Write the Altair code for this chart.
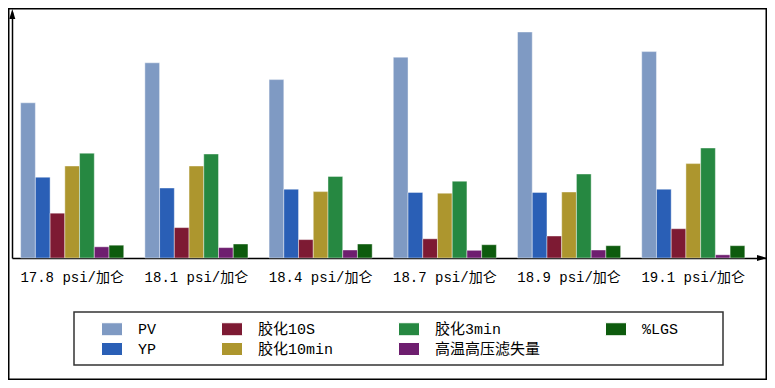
import altair as alt
import pandas as pd

categories = ["17.8 psi/加仑", "18.1 psi/加仑", "18.4 psi/加仑",
              "18.7 psi/加仑", "18.9 psi/加仑", "19.1 psi/加仑"]
series = ["PV", "YP", "胶化10S", "胶化10min", "胶化3min", "高温高压滤失量", "%LGS"]

pv = [19.4, 24.4, 22.3, 25.1, 28.25, 25.8]
yp = [10.1, 8.75, 8.6, 8.2, 8.2, 8.6]
gel10s = [5.6, 3.8, 2.3, 2.4, 2.75, 3.66]
gel10min = [11.5, 11.5, 8.3, 8.1, 8.25, 11.8]
gel3min = [13.1, 13.0, 10.2, 9.6, 10.5, 13.75]
fluid_loss = [1.4, 1.3, 1.0, 0.96, 1.0, 0.4]
lgs = [1.6, 1.75, 1.75, 1.66, 1.54, 1.54]

series_colors = ["#7f9ac3", "#2a5fb6", "#7d1a33", "#ad962e", "#268841", "#6e1e6f", "#0d5b0d"]

values = [pv, yp, gel10s, gel10min, gel3min, fluid_loss, lgs]
rows = []
for s, vals in zip(series, values):
    for c, v in zip(categories, vals):
        rows.append({"category": c, "series": s, "value": v})
df = pd.DataFrame(rows)

FONT = "'Liberation Mono', 'Noto Sans CJK SC'"

bars = alt.Chart(df).mark_bar(stroke="white", strokeWidth=0.7, strokeOpacity=0.6).encode(
    x=alt.X("category:N", sort=categories, title=None,
            scale=alt.Scale(paddingInner=0.17, paddingOuter=0.12, align=0.29),
            axis=alt.Axis(labelAngle=0, ticks=False, tickSize=0, domainColor="black",
                          domainWidth=1.5, labelFont=FONT, labelFontSize=14,
                          labelColor="black", labelPadding=12, labelLimit=300)),
    xOffset=alt.XOffset("series:N", sort=series,
                        scale=alt.Scale(paddingInner=0, paddingOuter=0)),
    y=alt.Y("value:Q", scale=alt.Scale(domain=[0, 30.75], nice=False, zero=True),
            axis=alt.Axis(labels=False, ticks=False, grid=False, domainColor="black",
                          domainWidth=1.5, title=None)),
    color=alt.Color("series:N",
                    scale=alt.Scale(domain=series, range=series_colors),
                    legend=alt.Legend(title=None, orient="none", legendX=89, legendY=306,
                                      columns=4, columnPadding=62, rowPadding=0,
                                      gridAlign="each",
                                      symbolType="M-1,-0.62H1V0.62H-1Z", symbolSize=441,
                                      symbolStrokeColor="white", symbolStrokeWidth=1,
                                      symbolOpacity=1,
                                      labelFont=FONT, labelFontSize=15, labelOffset=15,
                                      labelColor="black", padding=0, labelLimit=300)),
)

one = pd.DataFrame({"a": [0]})

border = alt.Chart(one).mark_rect(filled=False, stroke="black", strokeWidth=1.5).encode(
    x=alt.value(-3.25), x2=alt.value(754.25), y=alt.value(-3.25), y2=alt.value(367.25))

legend_box = alt.Chart(one).mark_rect(filled=False, stroke="#333333", strokeWidth=1.5).encode(
    x=alt.value(62), x2=alt.value(711), y=alt.value(300), y2=alt.value(353))

y_arrow = alt.Chart(one).mark_point(shape="M0,-1L0.6,1L-0.6,1Z", size=100, filled=True,
                                    color="black", opacity=1).encode(
    x=alt.value(0.3), y=alt.value(2))

x_arrow = alt.Chart(one).mark_point(shape="M1,0L-1,-0.6L-1,0.6Z", size=100, filled=True,
                                    color="black", opacity=1).encode(
    x=alt.value(750), y=alt.value(246))

chart = alt.layer(bars, border, legend_box, y_arrow, x_arrow).properties(
    width=754, height=246,
    autosize=alt.AutoSizeParams(type="none"),
    padding={"left": 4, "top": 4, "right": 1, "bottom": 122},
    background="white",
).configure_view(stroke=None)

chart.save("out.html", embed_options={"renderer": "svg", "actions": False})
